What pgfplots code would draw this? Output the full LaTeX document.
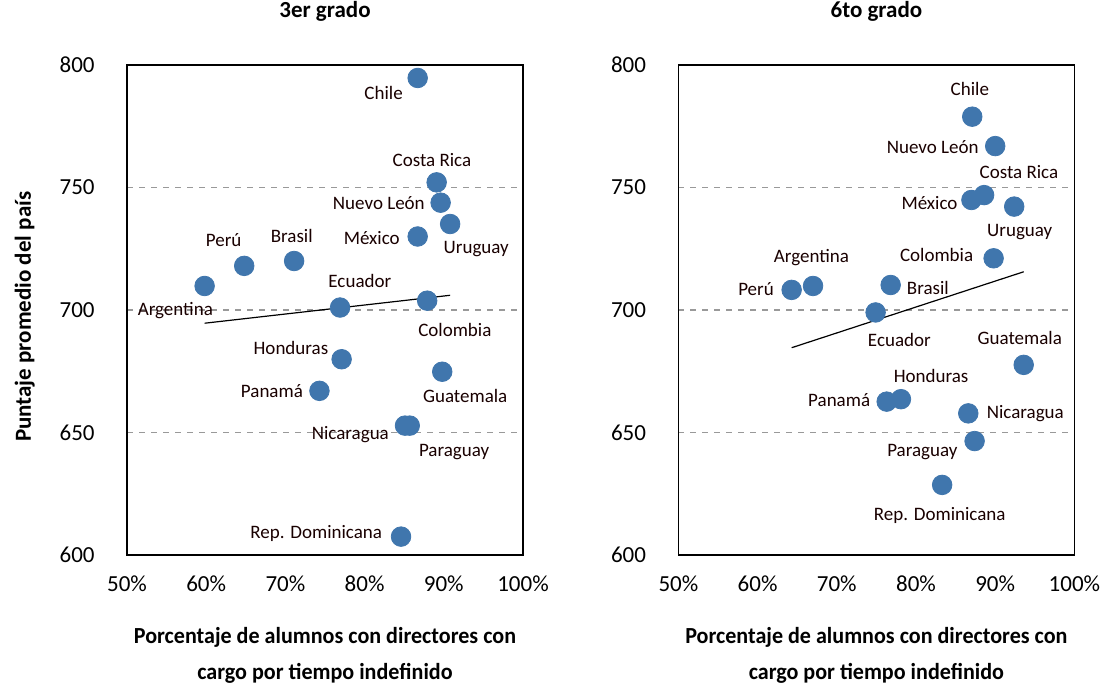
\documentclass[border=0pt]{standalone}
\usepackage{pgfplots}
\pgfplotsset{compat=1.18}
\usepackage{fontspec}
\setmainfont{Carlito}
\newfontfamily\condfont[FakeStretch=0.96]{Carlito}
\definecolor{dot}{RGB}{64,118,173}

\pgfplotstableread{
x y
86.7 794.7
89.1 752.1
89.6 743.8
90.8 735.1
86.7 730.0
64.8 718.0
71.1 720.0
59.8 709.8
76.9 701.0
87.9 703.8
77.1 679.9
89.8 674.8
74.3 667.0
85.1 652.8
85.7 652.8
84.6 607.5
}\tercero

\pgfplotstableread{
x y
87.1 778.9
90.0 766.9
88.6 746.9
87.0 744.9
92.4 742.2
89.8 721.1
67.0 709.8
64.3 708.2
76.8 710.2
74.9 699.0
93.6 677.6
78.1 663.6
76.3 662.6
86.6 657.8
87.4 646.5
83.3 628.6
}\sexto

\tikzset{lbl/.style={font=\fontsize{9.5}{11}\selectfont, text=black!90!red, inner sep=0pt}}

\pgfplotsset{
  panel/.style={
    width=198pt, height=245pt, scale only axis, anchor=south west,
    xmin=50, xmax=100, ymin=600, ymax=800,
    xtick={50,60,70,80,90,100},
    xticklabels={50\%,60\%,70\%,80\%,90\%,100\%},
    ytick={650,700,750},
    extra y ticks={600,800},
    extra y tick style={grid=none},
    ymajorgrids,
    major grid style={dashed, gray!80, line width=0.6pt},
    tick style={draw=none},
    axis line style={line width=0.9pt},
    /pgf/number format/assume math mode=true,
    ticklabel style={font=\fontsize{11.5}{13}\selectfont},
    yticklabel style={anchor=east, inner sep=0pt, xshift=-16pt},
    xticklabel style={anchor=north, inner sep=0pt, yshift=-10pt},
    title style={at={(0.5,1)}, anchor=base, yshift=17.5pt, font=\fontsize{11.5}{13}\selectfont\bfseries},
    xlabel style={at={(axis description cs:0.5,-0.204)}, anchor=center, align=center,
      font=\fontsize{11.5}{18}\selectfont\condfont\bfseries},
    ylabel style={font=\fontsize{11.5}{13}\selectfont\bfseries},
    clip=false,
  },
}

\begin{document}
\begin{tikzpicture}
\useasboundingbox (0,0) rectangle (552pt,344pt);

\begin{axis}[panel, at={(63.5pt,66.5pt)},
  title={3er grado},
  xlabel={Porcentaje de alumnos con directores con\\cargo por tiempo indefinido},
  ylabel={Puntaje promedio del país},
  ylabel style={at={(axis description cs:-0.258,0.486)}, anchor=center}]
\addplot[only marks, mark=*, mark size=4.9pt, mark options={fill=dot, draw=dot}] table[x=x,y=y] {\tercero};
\addplot[black, line width=0.6pt] coordinates {(59.8,694.6) (90.8,706.0)};
\node[lbl] at (axis cs:82.4,788.6) {Chile};
\node[lbl] at (axis cs:88.5,761.2) {Costa Rica};
\node[lbl] at (axis cs:81.8,743.7) {Nuevo León};
\node[lbl] at (axis cs:94.1,724.9) {Uruguay};
\node[lbl] at (axis cs:80.9,729.4) {México};
\node[lbl] at (axis cs:62.2,728.6) {Perú};
\node[lbl] at (axis cs:70.8,730.2) {Brasil};
\node[lbl] at (axis cs:79.4,711.8) {Ecuador};
\node[lbl] at (axis cs:56.1,699.6) {Argentina};
\node[lbl] at (axis cs:91.4,691.8) {Colombia};
\node[lbl] at (axis cs:70.7,684.5) {Honduras};
\node[lbl] at (axis cs:68.3,666.9) {Panamá};
\node[lbl] at (axis cs:92.7,664.9) {Guatemala};
\node[lbl] at (axis cs:78.2,649.0) {Nicaragua};
\node[lbl] at (axis cs:91.3,642.0) {Paraguay};
\node[lbl] at (axis cs:73.9,608.6) {Rep. Dominicana};
\end{axis}

\begin{axis}[panel, at={(339.2pt,66.5pt)},
  title={6to grado},
  xlabel={Porcentaje de alumnos con directores con\\cargo por tiempo indefinido}]
\addplot[only marks, mark=*, mark size=4.9pt, mark options={fill=dot, draw=dot}] table[x=x,y=y] {\sexto};
\addplot[black, line width=0.6pt] coordinates {(64.3,684.6) (93.6,715.6)};
\node[lbl] at (axis cs:86.8,790.2) {Chile};
\node[lbl] at (axis cs:82.1,766.5) {Nuevo León};
\node[lbl] at (axis cs:93.0,756.3) {Costa Rica};
\node[lbl] at (axis cs:81.7,743.7) {México};
\node[lbl] at (axis cs:93.1,731.8) {Uruguay};
\node[lbl] at (axis cs:82.6,722.4) {Colombia};
\node[lbl] at (axis cs:66.8,721.2) {Argentina};
\node[lbl] at (axis cs:59.8,708.6) {Perú};
\node[lbl] at (axis cs:81.5,709.0) {Brasil};
\node[lbl] at (axis cs:77.9,687.8) {Ecuador};
\node[lbl] at (axis cs:93.1,688.6) {Guatemala};
\node[lbl] at (axis cs:81.9,673.1) {Honduras};
\node[lbl] at (axis cs:70.3,663.3) {Panamá};
\node[lbl] at (axis cs:93.8,657.6) {Nicaragua};
\node[lbl] at (axis cs:80.8,642.0) {Paraguay};
\node[lbl] at (axis cs:83.0,616.3) {Rep. Dominicana};
\end{axis}
\end{tikzpicture}
\end{document}
